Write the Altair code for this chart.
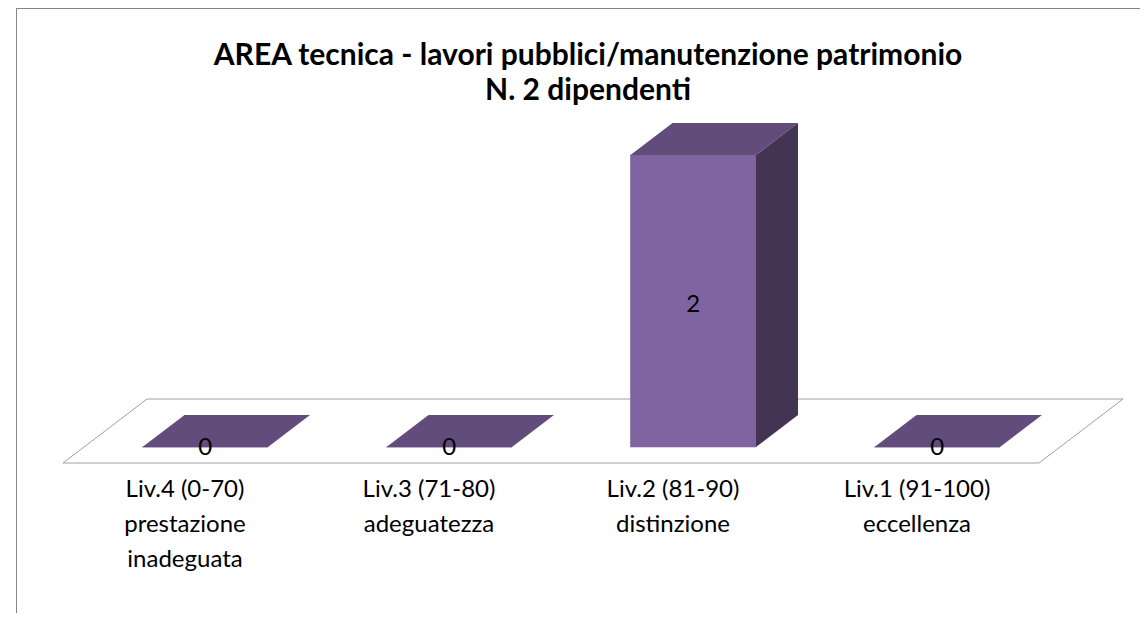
import altair as alt
import pandas as pd

title_lines = ["AREA tecnica - lavori pubblici/manutenzione patrimonio", "N. 2 dipendenti"]
categories = [
    "Liv.4 (0-70)\nprestazione\ninadeguata",
    "Liv.3 (71-80)\nadeguatezza",
    "Liv.2 (81-90)\ndistinzione",
    "Liv.1 (91-100)\neccellenza",
]
values = [0, 0, 2, 0]

W, H = 1132, 605
UNIT_X = 244.0       # px per category
UNIT_Y = 146.0       # px per employee
ORIGIN_X = 76.0      # chart px of category 0 on bar front plane
ORIGIN_Y = 439.0     # chart px of value 0 on bar front plane
DEPTH_X = 42.0 / UNIT_X
DEPTH_Y = 32.0 / UNIT_Y
BAR_START = 58.5 / UNIT_X
BAR_WIDTH = 125.5 / UNIT_X

x_scale = alt.Scale(domain=[-ORIGIN_X / UNIT_X, (W - ORIGIN_X) / UNIT_X], range=[0, W], nice=False, zero=False)
y_scale = alt.Scale(domain=[(ORIGIN_Y - H) / UNIT_Y, ORIGIN_Y / UNIT_Y], range=[H, 0], nice=False, zero=False)

X = lambda f: alt.X(f, type="quantitative", scale=x_scale, axis=None)
Y = lambda f: alt.Y(f, type="quantitative", scale=y_scale, axis=None, stack=None)
Y2 = lambda f: alt.Y2(f)
X2 = lambda f: alt.X2(f)

n = len(categories)
floor_rows = []
fl, fr = -0.5 * DEPTH_X, n - 0.5 * DEPTH_X
fb, ft = -0.5 * DEPTH_Y, 1.5 * DEPTH_Y
bl, br = fl + 2 * DEPTH_X, fr + 2 * DEPTH_X
for x, y, y2 in [(fl, fb, fb), (bl, fb, ft), (fr, fb, ft), (br, ft, ft)]:
    floor_rows.append({"x": x, "y": y, "y2": y2})
floor = pd.DataFrame(floor_rows)

front, top, side, labels, axis_labels = [], [], [], [], []
for i, (cat, v) in enumerate(zip(categories, values)):
    x0 = i + BAR_START
    x1 = x0 + BAR_WIDTH
    front.append({"x": x0, "x2": x1, "y": 0, "y2": v})
    for x, y, y2 in [(x0, v, v), (x0 + DEPTH_X, v, v + DEPTH_Y), (x1, v, v + DEPTH_Y), (x1 + DEPTH_X, v + DEPTH_Y, v + DEPTH_Y)]:
        top.append({"i": i, "x": x, "y": y, "y2": y2})
    for x, y, y2 in [(x1, 0, v), (x1 + DEPTH_X, DEPTH_Y, v + DEPTH_Y)]:
        side.append({"i": i, "x": x, "y": y, "y2": y2})
    labels.append({"x": (x0 + x1) / 2, "y": v * 0.49, "t": str(v)})
    axis_labels.append({"x": i + 0.5 - 0.5 * DEPTH_X, "y": -0.34, "t": cat})

floor_layer = alt.Chart(floor).mark_area(fill="white", stroke="#a0a0a0", strokeWidth=1, interpolate="linear").encode(
    x=X("x"), y=Y("y"), y2=Y2("y2"))
front_layer = alt.Chart(pd.DataFrame(front)).mark_rect(fill="#8064A2", stroke="#8064A2", strokeWidth=0.6).encode(
    x=X("x"), x2=X2("x2"), y=Y("y"), y2=Y2("y2"))
top_layer = alt.Chart(pd.DataFrame(top)).mark_area(fill="#624C7C", interpolate="linear").encode(
    x=X("x"), y=Y("y"), y2=Y2("y2"), detail="i:N")
side_layer = alt.Chart(pd.DataFrame(side)).mark_area(fill="#443454", interpolate="linear").encode(
    x=X("x"), y=Y("y"), y2=Y2("y2"), detail="i:N")
value_layer = alt.Chart(pd.DataFrame(labels)).mark_text(font="Lato", fontSize=24, color="black", baseline="middle", dy=1).encode(
    x=X("x"), y=Y("y"), text="t:N")
cat_layer = alt.Chart(pd.DataFrame(axis_labels)).mark_text(font="Lato", fontSize=24, color="black", baseline="alphabetic",
                                                          lineBreak="\n", lineHeight=35).encode(
    x=X("x"), y=Y("y"), text="t:N")
frame_left = alt.Chart().mark_rule(color="#868686", strokeWidth=1).encode(x=alt.value(8.5), y=alt.value(0), y2=alt.value(H))
frame_top = alt.Chart().mark_rule(color="#868686", strokeWidth=1).encode(x=alt.value(8), x2=alt.value(W), y=alt.value(0.5))

chart = alt.layer(frame_left, frame_top, floor_layer, front_layer, top_layer, side_layer, value_layer, cat_layer).properties(
    width=W, height=H, padding=0, autosize=alt.AutoSizeParams(type="none"),
    title=alt.TitleParams(text=title_lines, font="Lato", fontSize=30, fontWeight="bold", color="black",
                          anchor="middle", lineHeight=35, dx=14, dy=98, offset=0),
).configure_view(stroke=None)

chart.save("out.html", embed_options={"renderer": "svg", "actions": False})
